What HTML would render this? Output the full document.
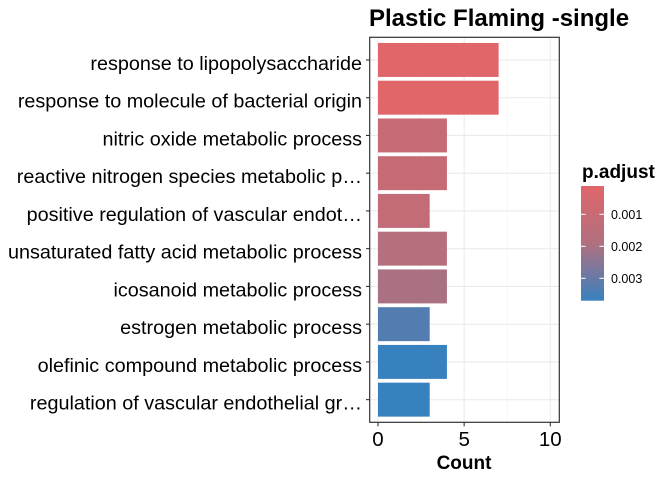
<!DOCTYPE html>
<html><head><meta charset="utf-8"><style>
body{margin:0;background:#fff;}
svg text{font-family:"Liberation Sans",Arial,sans-serif;}
</style></head><body>
<svg id="chart" width="672" height="480" xmlns="http://www.w3.org/2000/svg">
<rect width="672" height="480" fill="#fff"/>
<text x="369" y="26" font-size="24" font-weight="bold" fill="#000">Plastic Flaming -single</text>
<g id="grid"></g>
<g id="bars"></g>
<rect x="369.7" y="37.3" width="189.6" height="385" fill="none" stroke="#333" stroke-width="1.2"/>
<g id="yaxis"></g>
<g id="xaxis"></g>
<text x="464" y="469" font-size="19" font-weight="bold" text-anchor="middle">Count</text>
<g id="legend">
<text x="582" y="178" font-size="19" font-weight="bold">p.adjust</text>
<defs><linearGradient id="grad" x1="0" y1="0" x2="0" y2="1">
<stop offset="0" stop-color="#E0666A"/><stop offset="0.5" stop-color="#B0707F"/><stop offset="1" stop-color="#3881BF"/>
</linearGradient></defs>
<rect x="581" y="186" width="23" height="114.7" fill="url(#grad)"/>
<g id="legticks"></g>
</g>
</svg>
<script>
const categories=["response to lipopolysaccharide","response to molecule of bacterial origin","nitric oxide metabolic process","reactive nitrogen species metabolic p…","positive regulation of vascular endot…","unsaturated fatty acid metabolic process","icosanoid metabolic process","estrogen metabolic process","olefinic compound metabolic process","regulation of vascular endothelial gr…"];
const counts=[7,7,4,4,3,4,4,3,4,3];
const padj=[0.00012,0.00012,0.0011,0.0011,0.0012,0.0017,0.0020,0.0033,0.0037,0.0037];
const xTicks=[0,5,10];
const legendTicks=[0.001,0.002,0.003];
const NS="http://www.w3.org/2000/svg";
const L=369.7,R=559.3,T=37.3,B=422.3;
const x=v=>378+v*17.23;
const n=categories.length;
const step=(B-T)/(n+0.2);
const y=i=>T+(0.6+i)*step;
const pMin=0.000116,pMax=0.0037;
const legY=p=>186+(p-pMin)/(pMax-pMin)*114.7;
function lerp(a,b,t){return a.map((v,i)=>Math.round(v+(b[i]-v)*t));}
function col(p){const t=Math.max(0,Math.min(1,(p-pMin)/(pMax-pMin)));
 const s=[[224,102,106],[176,112,127],[56,129,191]];
 const c=t<0.5?lerp(s[0],s[1],t*2):lerp(s[1],s[2],(t-0.5)*2);return `rgb(${c})`;}
function mk(tag,attrs,parent){const e=document.createElementNS(NS,tag);for(const k in attrs)e.setAttribute(k,attrs[k]);parent.appendChild(e);return e;}
const grid=document.getElementById('grid');
mk('rect',{x:L,y:T,width:R-L,height:B-T,fill:'#fff'},grid);
[2.5,7.5].forEach(v=>{const g=mk('line',{x1:x(v),x2:x(v),y1:T,y2:B,stroke:'#f0f0f0','stroke-width':0.6},grid);

});
xTicks.forEach(v=>{const g=mk('line',{x1:x(v),x2:x(v),y1:T,y2:B,stroke:'#ebebeb','stroke-width':1.1},grid);

});
categories.forEach((c,i)=>{const g=mk('line',{x1:L,x2:R,y1:y(i),y2:y(i),stroke:'#ebebeb','stroke-width':1.1},grid);

});
const bars=document.getElementById('bars'),ya=document.getElementById('yaxis'),xa=document.getElementById('xaxis');
const bh=step*0.9;
categories.forEach((c,i)=>{
 const r=mk('rect',{x:x(0),y:y(i)-bh/2,width:x(counts[i])-x(0),height:bh,fill:col(padj[i])},bars);
 
 
 const t=mk('text',{x:362,y:y(i)+10,'font-size':19.8,'text-anchor':'end',fill:'#000'},ya);t.textContent=c;
 
 
 const tk=mk('line',{x1:366,x2:369.7,y1:y(i),y2:y(i),stroke:'#333','stroke-width':1.1},ya);
 
 
});
xTicks.forEach(v=>{
 const tk=mk('line',{x1:x(v),x2:x(v),y1:B,y2:B+4,stroke:'#333','stroke-width':1.1},xa);
 
 
 const t=mk('text',{x:x(v),y:446,'font-size':20.5,'text-anchor':'middle',fill:'#000'},xa);t.textContent=v;
 
 
});
const lt=document.getElementById('legticks');
legendTicks.forEach(p=>{const yy=legY(p);
 [[581,585.6],[599.4,604]].forEach(s=>{const l=mk('line',{x1:s[0],x2:s[1],y1:yy,y2:yy,stroke:'#fff','stroke-width':1},lt);
 
 });
 const t=mk('text',{x:611,y:yy+4.5,'font-size':12.5,fill:'#000'},lt);t.textContent=p.toFixed(3);
 
 
});
</script>
</body></html>
